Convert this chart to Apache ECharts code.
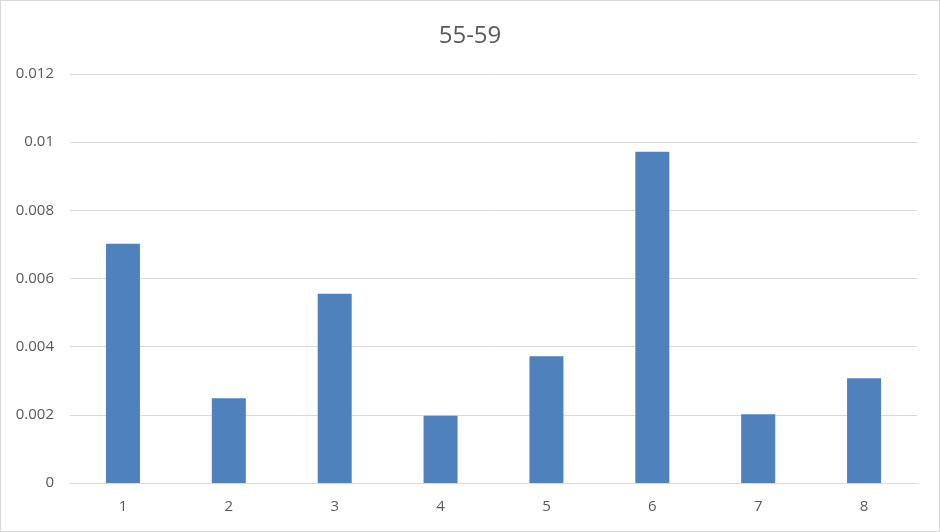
<!DOCTYPE html>
<html><head><meta charset="utf-8">
<script src="https://cdn.jsdelivr.net/npm/echarts@6/dist/echarts.min.js"></script>
<style>html,body{margin:0;padding:0;background:#fff}#c{width:938px;height:530px;border:1px solid #D9D9D9}</style>
</head><body><div id="c"></div>
<script>
var titleText = '55-59';
var categories = ['1','2','3','4','5','6','7','8'];
var values = [0.00702, 0.00249, 0.00555, 0.00197, 0.00372, 0.00972, 0.00202, 0.00307];
var yTicks = [0, 0.002, 0.004, 0.006, 0.008, 0.01, 0.012];
var chart = echarts.init(document.getElementById('c'));
chart.setOption({
  animation:false,
  title:{text:titleText,left:'center',top:18,textStyle:{fontFamily:'Open Sans, Liberation Sans, sans-serif',fontSize:24,fontWeight:'normal',color:'#595959'}},
  grid:{left:69,right:22,top:73,bottom:48},
  xAxis:{type:'category',data:categories,axisTick:{show:false},axisLine:{lineStyle:{color:'#D9D9D9',width:1}},
    axisLabel:{color:'#595959',fontSize:15,margin:16,fontFamily:'Open Sans, Liberation Sans, sans-serif'}},
  yAxis:{type:'value',min:0,max:0.012,interval:0.002,axisLine:{show:false},axisTick:{show:false},
    splitLine:{lineStyle:{color:'#D9D9D9',width:1}},
    axisLabel:{color:'#595959',fontSize:15,margin:16,fontFamily:'Open Sans, Liberation Sans, sans-serif',
      formatter:function(v){return String(parseFloat(v.toFixed(4)));}}},
  series:[{type:'bar',data:values,barWidth:34,itemStyle:{color:'#4F81BD'}}]
});
</script></body></html>
